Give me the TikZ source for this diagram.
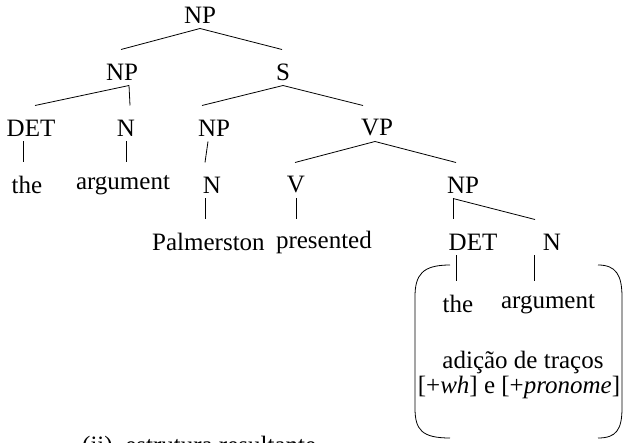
\documentclass[tikz,border=0pt]{standalone}
\usepackage{fontspec}
\setmainfont{Liberation Serif}
\begin{document}
\begin{tikzpicture}[x=1pt,y=-1pt,
  lab/.style={inner sep=0pt,font=\fontsize{25}{29}\selectfont},
  edge/.style={draw=black,line width=0.8pt}]
\useasboundingbox (0,0) rectangle (627,443);
% labels
\node[lab] (np0) at (200,15) {NP};
\node[lab] (np1) at (122,72) {NP};
\node[lab] (s) at (283,72) {S};
\node[lab] (det1) at (31,128) {DET};
\node[lab] (n1) at (126,128) {N};
\node[lab] (np2) at (214,128) {NP};
\node[lab] (vp) at (377,128) {VP};
\node[lab] (the1) at (27,185) {the};
\node[lab] (arg1) at (123,185) {argument};
\node[lab] (n2) at (212,185) {N};
\node[lab] (v) at (296,185) {V};
\node[lab] (np3) at (463,185) {NP};
\node[lab,anchor=west] (pal) at (152,242) {Palmerston};
\node[lab,anchor=east] (pres) at (372,242) {presented};
\node[lab] (det2) at (473,242) {DET};
\node[lab] (n3) at (552,242) {N};
\node[lab] (the2) at (458,304) {the};
\node[lab] (arg2) at (548,304) {argument};
\node[lab] (adic) at (523,362) {adição de traços};
\node[lab] (feat) at (519,387) {[+\textit{wh}] e [+\textit{pronome}]};
\node[lab,anchor=base west] (cap) at (82,454) {(ii)\enspace estrutura resultante};
% connectors: parent anchor (xshift) -> child anchor (xshift)
\newcommand\brn[4]{\draw[edge] ([xshift=#2pt,yshift=-13.5pt]#1) -- ([xshift=#4pt,yshift=22.5pt]#3);}
\brn{np0.center}{0}{np1.center}{-1}
\brn{np0.center}{0}{s.center}{-1}
\brn{np1.center}{7}{det1.center}{4}
\brn{np1.center}{7}{n1.center}{4}
\brn{s.center}{0}{np2.center}{-12}
\brn{s.center}{0}{vp.center}{-14}
\brn{det1.center}{-8}{the1.center}{-4}
\brn{n1.center}{0}{arg1.center}{3}
\brn{np2.center}{-6}{n2.center}{-7}
\brn{vp.center}{-2}{v.center}{-1}
\brn{vp.center}{-2}{np3.center}{-7}
\brn{n2.center}{-7}{pal.west}{53}
\brn{v.center}{0}{pres.east}{-76}
\brn{np3.center}{-10}{det2.center}{-20}
\brn{np3.center}{-10}{n3.center}{-17}
\brn{det2.center}{-17}{the2.center}{-2}
\brn{n3.center}{-18}{arg2.center}{-14}
% brackets
\draw[edge] (450,265) .. controls (422,265) and (415,275) .. (415,297) -- (415,408) .. controls (415,430) and (422,438) .. (450,438);
\draw[edge] (598,265) .. controls (616,265) and (622,275) .. (622,297) -- (622,408) .. controls (622,430) and (616,438) .. (598,438);
\end{tikzpicture}
\end{document}
